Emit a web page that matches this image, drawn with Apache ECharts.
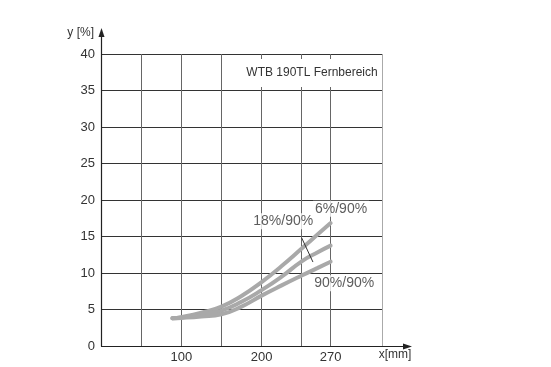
<!DOCTYPE html>
<html>
<head>
<meta charset="utf-8">
<script src="https://cdn.jsdelivr.net/npm/echarts@6/dist/echarts.min.js"></script>
<style>html,body{margin:0;padding:0;background:#fff}#c{width:551px;height:367px}</style>
</head>
<body>
<div id="c"></div>
<script>
// x values are in the chart's drawing units (the "270" tick sits where the curves end)
var xGridValues = [0, 50, 100, 150, 200, 250, 286, 350];
var xLabelValues = [100, 200, 286];
var xLabelTexts = ['100', '200', '270'];
var yTicks = [0, 5, 10, 15, 20, 25, 30, 35, 40];

var curveX = [89, 100, 125, 150, 175, 200, 225, 250, 270, 286];
var curve6 = [3.8, 3.95, 4.55, 5.4, 6.85, 8.75, 10.95, 13.35, 15.3, 16.85];
var curve18 = [3.8, 3.9, 4.3, 4.85, 6.05, 7.65, 9.5, 11.6, 12.85, 13.75];
var curve90 = [3.8, 3.85, 4.05, 4.35, 5.4, 6.9, 8.3, 9.65, 10.7, 11.55];

var seriesNames = ['6%/90%', '18%/90%', '90%/90%'];
var labelPos = [[299, 18.8], [227, 17.1], [303, 8.6]];
var leader = [[250, 14.8], [264, 11.5]];
var title = 'WTB 190TL Fernbereich';

function pts(xs, ys) { return xs.map(function (x, i) { return [x, ys[i]]; }); }

var chart = echarts.init(document.getElementById('c'), null, {renderer: 'canvas'});
var FONT = '"Liberation Sans", Arial, sans-serif';
var L = 101, T = 54, R = 169, B = 21;
var W = 551, H = 367;

var curveStyle = {color: '#a9a9a9', width: 4, cap: 'round'};
function curve(d) {
  return {type: 'line', data: d, smooth: 0.5, symbol: 'none', lineStyle: curveStyle, z: 5, silent: true};
}

chart.setOption({
  animation: false,
  grid: {left: L, top: T, right: R, bottom: B},
  xAxis: {
    type: 'value', min: 0, max: 350,
    axisLine: {show: false},
    axisTick: {show: false, customValues: xGridValues},
    splitLine: {show: true, lineStyle: {color: ['#555', '#666', '#666', '#666', '#666', '#666', '#666', '#aaa'], width: 1}},
    axisLabel: {
      customValues: xLabelValues, margin: 5,
      fontFamily: FONT, fontSize: 13, color: '#333',
      formatter: function (v) { var i = xLabelValues.indexOf(v); return i >= 0 ? xLabelTexts[i] : ''; }
    }
  },
  yAxis: {
    type: 'value', min: 0, max: 40, interval: 5,
    axisLine: {show: false},
    axisTick: {show: false},
    splitLine: {show: true, lineStyle: {color: '#333', width: 1}},
    axisLabel: {margin: 6, fontFamily: FONT, fontSize: 13, color: '#333'}
  },
  series: [
    curve(pts(curveX, curve6)),
    curve(pts(curveX, curve18)),
    curve(pts(curveX, curve90)),
    {type: 'line', data: leader, symbol: 'none', lineStyle: {color: '#333', width: 1}, z: 6, silent: true},
    {
      type: 'scatter', symbolSize: 0, z: 7, silent: true,
      data: labelPos.map(function (p, i) { return {value: p, name: seriesNames[i]}; }),
      label: {
        show: true, position: 'inside', formatter: '{b}',
        fontFamily: FONT, fontSize: 14, color: '#333',
        backgroundColor: '#fff', padding: [1, 2]
      }
    }
  ]
});

var x0 = L, y0 = H - B, xr = W - R;
var axisColor = '#222';
chart.setOption({
  graphic: [
    // title box
    {type: 'rect', shape: {x: 243, y: 59, width: xr - 243 - 0.5, height: 28}, style: {fill: '#fff'}, z: 10},
    {type: 'text', x: 312, y: 73, style: {text: title, font: '12px ' + FONT, fill: '#333', align: 'center', verticalAlign: 'middle'}, z: 11},
    // axes with arrows
    {type: 'line', shape: {x1: x0, y1: y0 + 0.5, x2: 406, y2: y0 + 0.5}, style: {stroke: axisColor, lineWidth: 1.2}, z: 12},
    {type: 'polygon', shape: {points: [[412, y0 + 0.5], [403, y0 - 2.5], [403, y0 + 3.5]]}, style: {fill: axisColor}, z: 12},
    {type: 'line', shape: {x1: x0 + 0.5, y1: y0 + 0.5, x2: x0 + 0.5, y2: 35}, style: {stroke: axisColor, lineWidth: 1.2}, z: 12},
    {type: 'polygon', shape: {points: [[x0 + 0.5, 28], [x0 - 2.5, 37], [x0 + 3.5, 37]]}, style: {fill: axisColor}, z: 12},
    // axis names
    {type: 'text', x: 94, y: 33, style: {text: 'y [%]', font: '12px ' + FONT, fill: '#333', align: 'right', verticalAlign: 'middle'}, z: 12},
    {type: 'text', x: 395, y: 355, style: {text: 'x[mm]', font: '12px ' + FONT, fill: '#333', align: 'center', verticalAlign: 'middle'}, z: 12}
  ]
});
</script>
</body>
</html>
